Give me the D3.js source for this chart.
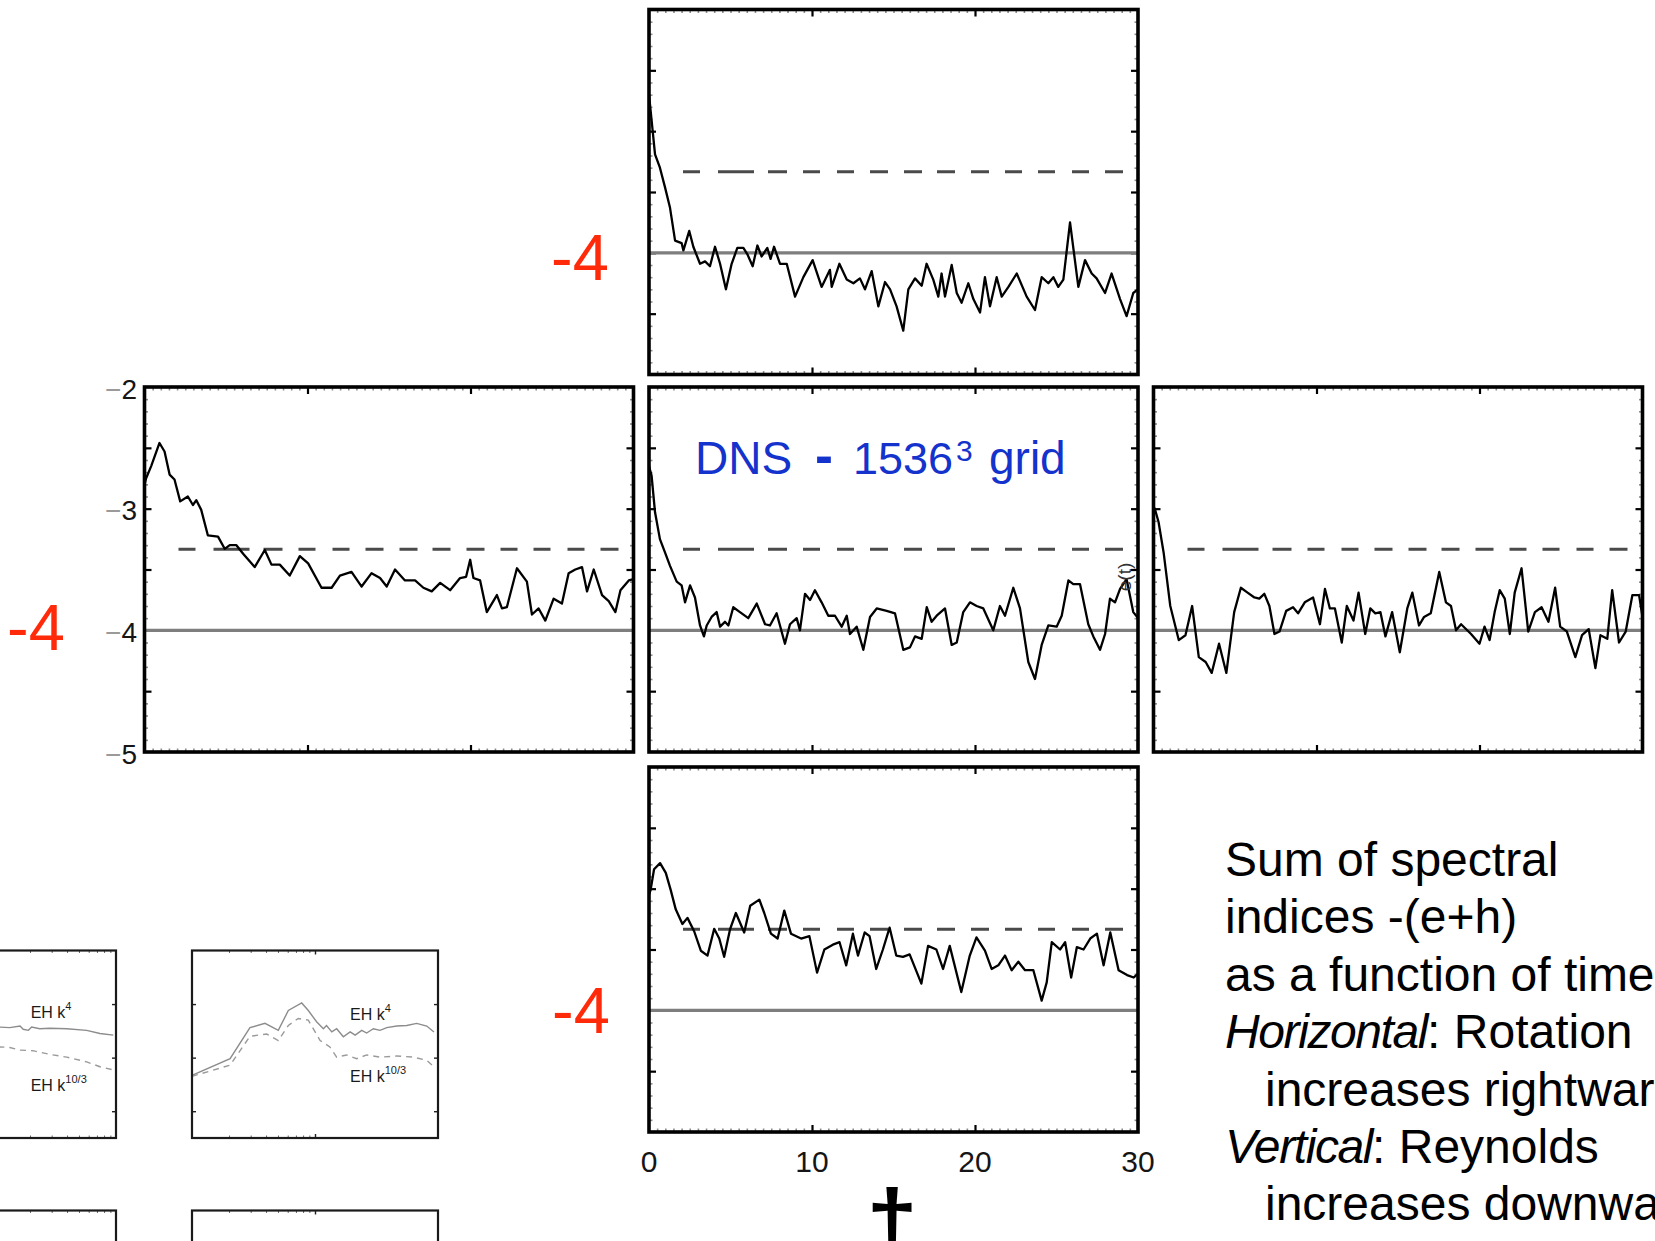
<!DOCTYPE html>
<html>
<head>
<meta charset="utf-8">
<script src="https://cdn.jsdelivr.net/npm/d3@7"></script>
<style>
  body { margin: 0; background: #ffffff; }
  svg { display: block; }
  text { font-family: "Liberation Sans", Arial, Helvetica, sans-serif; }
</style>
</head>
<body>
<svg id="chart" width="1655" height="1241"></svg>
<script>
// ---------------- DATA ----------------
// Time series of the sum of spectral indices -(e+h)
const tTop = [0,0.37,0.67,0.98,1.29,1.60,2.00,2.11,2.47,2.72,3.13,3.44,3.74,4.05,4.36,4.72,5.07,5.42,5.79,6.03,6.36,6.65,6.91,7.26,7.46,7.67,8.04,8.45,8.96,9.47,10.04,10.59,11.10,11.21,11.68,12.13,12.54,12.94,13.25,13.66,14.07,14.48,14.79,15.19,15.60,15.91,16.32,16.73,17.03,17.44,17.75,17.95,18.16,18.57,18.88,19.18,19.59,19.90,20.31,20.61,20.92,21.33,21.64,22.05,22.56,23.17,23.68,24.09,24.50,24.81,25.11,25.42,25.83,26.34,26.75,27.16,27.46,27.98,28.38,28.90,29.30,29.71,30.0];
const vTop = [-2.70,-3.19,-3.30,-3.46,-3.63,-3.90,-3.92,-3.98,-3.82,-3.95,-4.09,-4.07,-4.11,-3.95,-4.09,-4.30,-4.09,-3.96,-3.96,-4.01,-4.11,-3.94,-4.03,-3.96,-4.05,-3.95,-4.09,-4.09,-4.36,-4.20,-4.06,-4.28,-4.14,-4.28,-4.09,-4.22,-4.25,-4.21,-4.30,-4.15,-4.44,-4.24,-4.30,-4.44,-4.64,-4.30,-4.21,-4.27,-4.09,-4.22,-4.36,-4.17,-4.36,-4.10,-4.33,-4.41,-4.25,-4.38,-4.49,-4.20,-4.44,-4.20,-4.36,-4.28,-4.17,-4.36,-4.47,-4.20,-4.25,-4.20,-4.28,-4.22,-3.75,-4.28,-4.06,-4.17,-4.21,-4.33,-4.17,-4.38,-4.52,-4.33,-4.30];

const tMidLeft = [0,0.10,0.41,0.92,1.23,1.54,1.84,2.19,2.66,2.97,3.18,3.48,3.89,4.51,4.92,5.23,5.64,6.05,6.76,7.38,7.79,8.30,8.91,9.53,10.04,10.86,11.48,11.99,12.70,13.32,13.93,14.45,14.86,15.37,15.98,16.60,17.11,17.62,18.14,18.75,19.36,19.73,19.98,20.18,20.59,21.00,21.62,21.93,22.23,22.85,23.46,23.77,24.18,24.59,25.10,25.61,26.02,26.43,26.84,27.15,27.56,28.07,28.48,28.89,29.20,29.71,30.0];
const vMidLeft = [-2.80,-2.75,-2.65,-2.46,-2.53,-2.72,-2.76,-2.94,-2.90,-2.97,-2.93,-3.01,-3.22,-3.23,-3.33,-3.30,-3.30,-3.37,-3.48,-3.34,-3.46,-3.46,-3.55,-3.39,-3.45,-3.65,-3.65,-3.55,-3.52,-3.64,-3.53,-3.57,-3.64,-3.50,-3.59,-3.59,-3.65,-3.68,-3.61,-3.67,-3.57,-3.56,-3.42,-3.57,-3.59,-3.85,-3.71,-3.82,-3.81,-3.49,-3.60,-3.87,-3.82,-3.92,-3.74,-3.78,-3.53,-3.50,-3.48,-3.68,-3.50,-3.71,-3.76,-3.85,-3.67,-3.59,-3.58];

const tMidCenter = [0,0.16,0.37,0.67,0.98,1.29,1.70,2.00,2.21,2.52,2.82,3.13,3.37,3.54,3.84,4.15,4.36,4.66,4.87,5.17,5.58,6.09,6.61,7.12,7.42,7.83,8.34,8.65,9.06,9.26,9.57,9.88,10.18,10.59,11.00,11.41,11.82,12.13,12.33,12.74,13.15,13.56,13.97,14.58,15.09,15.60,16.01,16.32,16.73,17.04,17.34,17.65,18.16,18.57,18.88,19.28,19.69,20.10,20.51,21.12,21.53,21.84,22.35,22.76,23.27,23.68,24.09,24.50,25.01,25.32,25.73,26.03,26.44,26.95,27.26,27.67,27.98,28.28,28.59,28.90,29.30,29.71,30.0];
const vMidCenter = [-2.65,-2.73,-3.03,-3.25,-3.36,-3.47,-3.60,-3.63,-3.77,-3.63,-3.73,-3.96,-4.05,-3.96,-3.89,-3.85,-3.97,-3.93,-3.96,-3.81,-3.85,-3.90,-3.78,-3.95,-3.96,-3.86,-4.11,-3.95,-3.90,-4.00,-3.70,-3.75,-3.67,-3.77,-3.88,-3.88,-3.97,-3.88,-4.03,-3.97,-4.16,-3.89,-3.82,-3.84,-3.86,-4.16,-4.14,-4.05,-4.07,-3.81,-3.93,-3.88,-3.82,-4.12,-4.10,-3.85,-3.77,-3.80,-3.82,-4.00,-3.80,-3.88,-3.65,-3.82,-4.26,-4.40,-4.12,-3.96,-3.97,-3.88,-3.59,-3.62,-3.62,-3.95,-4.05,-4.16,-4.03,-3.74,-3.77,-3.66,-3.58,-3.85,-3.90];

const tMidRight = [0,0.10,0.31,0.62,1.03,1.55,1.96,2.37,2.78,3.20,3.57,4.02,4.47,4.95,5.36,5.77,6.19,6.49,6.80,7.11,7.42,7.73,8.14,8.56,8.87,9.28,9.79,10.21,10.52,10.82,11.13,11.55,11.86,12.27,12.58,12.99,13.30,13.61,13.92,14.23,14.64,15.11,15.57,15.88,16.29,16.60,17.01,17.53,17.94,18.25,18.56,18.87,19.48,20.00,20.31,20.62,20.93,21.24,21.55,21.86,22.16,22.58,22.99,23.40,23.81,24.23,24.64,24.95,25.36,25.88,26.29,26.70,27.11,27.42,27.84,28.14,28.56,28.97,29.38,29.79,30.0];
const vMidRight = [-2.98,-3.01,-3.11,-3.36,-3.80,-4.08,-4.04,-3.80,-4.22,-4.26,-4.35,-4.11,-4.35,-3.85,-3.65,-3.69,-3.73,-3.74,-3.70,-3.80,-4.03,-4.01,-3.84,-3.81,-3.86,-3.77,-3.73,-3.95,-3.66,-3.82,-3.82,-4.10,-3.80,-3.92,-3.69,-4.03,-3.82,-3.86,-3.85,-4.05,-3.85,-4.18,-3.82,-3.69,-3.96,-3.89,-3.86,-3.52,-3.77,-3.80,-4.00,-3.95,-4.03,-4.11,-3.97,-4.08,-3.85,-3.67,-3.74,-4.03,-3.69,-3.49,-4.01,-3.85,-3.81,-3.93,-3.65,-3.97,-4.01,-4.22,-4.04,-3.99,-4.31,-4.04,-4.07,-3.67,-4.10,-4.01,-3.71,-3.71,-3.89];

const tBottom = [0,0.10,0.31,0.68,1.03,1.33,1.64,2.05,2.36,2.77,3.18,3.59,4.00,4.31,4.61,4.98,5.33,5.84,6.21,6.77,7.07,7.48,7.89,8.30,8.71,9.33,9.84,10.31,10.76,11.28,11.69,12.10,12.51,12.82,13.23,13.53,13.94,14.35,14.76,15.17,15.58,15.99,16.71,17.12,17.63,18.04,18.45,19.16,19.68,20.09,20.61,21.02,21.43,21.84,22.25,22.66,23.07,23.58,24.09,24.40,24.71,25.22,25.53,25.90,26.25,26.66,27.07,27.48,27.89,28.30,28.81,29.33,29.74,30.0];
const vBottom = [-3.05,-3.01,-2.84,-2.79,-2.87,-3.01,-3.17,-3.29,-3.24,-3.35,-3.51,-3.55,-3.33,-3.41,-3.56,-3.33,-3.20,-3.36,-3.14,-3.09,-3.20,-3.37,-3.41,-3.18,-3.37,-3.41,-3.39,-3.69,-3.50,-3.46,-3.44,-3.63,-3.37,-3.55,-3.36,-3.39,-3.66,-3.50,-3.32,-3.55,-3.56,-3.54,-3.78,-3.47,-3.50,-3.66,-3.47,-3.85,-3.55,-3.40,-3.51,-3.66,-3.63,-3.55,-3.67,-3.60,-3.67,-3.67,-3.92,-3.77,-3.44,-3.50,-3.44,-3.73,-3.48,-3.50,-3.41,-3.37,-3.63,-3.36,-3.67,-3.71,-3.73,-3.70];

// Reference levels
const solidRef = -4;
const dashedRef = -10 / 3;

// Tick labels
const xTickLabels = [0, 10, 20, 30];
const yTickLabels = [-2, -3, -4, -5];
const redLabel = "-4";

// Inset spectra (old figure): wavenumber k and compensated spectra
const insetLeftK4k = [9, 11.4, 13.7, 16.6, 17.6, 19.4, 20.6, 24.0, 29.0, 39.8, 57.8, 74.1, 95.1];
const insetLeftK4v = [2.06, 2.07, 2.06, 2.09, 2.03, 2.01, 2.07, 2.04, 2.05, 2.04, 2.01, 1.95, 1.92];
const insetLeftK103k = [9, 11.4, 13.7, 16.6, 21.1, 29.0, 39.8, 57.8, 74.1, 95.1];
const insetLeftK103v = [1.71, 1.70, 1.69, 1.64, 1.63, 1.56, 1.51, 1.42, 1.33, 1.27];
const insetRightK4k = [1.0, 2.04, 2.96, 3.92, 5.03, 6.07, 7.80, 8.82, 10.3, 11.7, 12.4, 13.7, 15.0, 17.0, 19.3, 21.2, 24.0, 26.3, 29.8, 33.8, 38.3, 46.2, 55.7, 67.1, 81.0, 92.7];
const insetRightK4v = [1.17, 1.48, 2.06, 2.14, 2.01, 2.38, 2.52, 2.38, 2.17, 2.04, 2.10, 1.98, 2.04, 1.89, 1.98, 1.92, 2.01, 1.96, 2.04, 2.01, 2.06, 2.09, 2.10, 2.14, 2.09, 1.98];
const insetRightK103k = [1.0, 2.04, 2.96, 4.05, 5.03, 6.07, 7.30, 8.82, 11.0, 13.2, 15.0, 18.1, 21.8, 26.3, 33.8, 46.2, 62.7, 81.0, 92.7];
const insetRightK103v = [1.15, 1.36, 1.90, 1.94, 1.82, 2.10, 2.23, 2.20, 1.82, 1.70, 1.51, 1.55, 1.48, 1.55, 1.51, 1.53, 1.51, 1.45, 1.33];

// Texts
const titleWords = ["DNS", "-", "1536", "3", "grid"];
const descLines = [
  {it: "", rest: "Sum of spectral", indent: false},
  {it: "", rest: "indices -(e+h)", indent: false},
  {it: "", rest: "as a function of time", indent: false},
  {it: "Horizontal", rest: ": Rotation", indent: false},
  {it: "", rest: "increases rightwards", indent: true},
  {it: "Vertical", rest: ": Reynolds", indent: false},
  {it: "", rest: "increases downwards", indent: true}
];
const axisTitle = "\u2020";
const sideLabel = "e(t)";

// ---------------- DRAWING ----------------
const svg = d3.select("#chart");
const defs = svg.append("defs");
const W = 489, H = 365;
const xS = d3.scaleLinear().domain([0, 30]).range([0, W]);
const yS = d3.scaleLinear().domain([-5, -2]).range([H, 0]);

const panels = [
  {x: 649,    y: 9.5, t: tTop,       v: vTop},
  {x: 144.5,  y: 387, t: tMidLeft,   v: vMidLeft,   yLab: true},
  {x: 649,    y: 387, t: tMidCenter, v: vMidCenter},
  {x: 1153.5, y: 387, t: tMidRight,  v: vMidRight},
  {x: 649,    y: 767, t: tBottom,    v: vBottom,    xLab: true}
];

const minorX = d3.range(1, 60).map(i => i * 0.5).filter(d => d % 10 !== 0);
const minorY = d3.range(-49, -20).map(i => i / 10).filter(d => Math.abs(d * 2 - Math.round(d * 2)) > 1e-6);
const majorX = [10, 20];
const majorY = [-4.5, -4, -3.5, -3, -2.5];

// dash layout of the -10/3 line (pixel intervals along the panel)
const dashSegs = [[34,51],[69,105],[119,138],[154,171],[188,205],[221,239],[255,273],[288,306],[322,340],[356,373],[389,406],[423,440],[456,474]];
const dashArr = [0];
let prev = 0;
dashSegs.forEach(s => { dashArr.push(s[0] - prev, s[1] - s[0]); prev = s[1]; });
dashArr.push(1000);

function addTicks(g, axis, tr, color, width) {
  const a = g.append("g").attr("transform", tr).attr("color", color).call(axis);
  a.select(".domain").remove();
  a.selectAll("line").attr("stroke-width", width);
  a.selectAll("text").remove();
}

const line = d3.line().x(d => xS(d[0])).y(d => yS(d[1]));

panels.forEach((p, i) => {
  const g = svg.append("g").attr("transform", `translate(${p.x},${p.y})`);
  const cid = "clipP" + i;
  defs.append("clipPath").attr("id", cid).append("rect").attr("width", W).attr("height", H);

  // minor ticks
  addTicks(g, d3.axisBottom(xS).tickValues(minorX).tickSize(-3.5).tickFormat(""), `translate(0,${H})`, "#8c8c8c", 1.6);
  addTicks(g, d3.axisTop(xS).tickValues(minorX).tickSize(-3.5).tickFormat(""), `translate(0,0)`, "#8c8c8c", 1.6);
  addTicks(g, d3.axisLeft(yS).tickValues(minorY).tickSize(-3.5).tickFormat(""), `translate(0,0)`, "#8c8c8c", 1.6);
  addTicks(g, d3.axisRight(yS).tickValues(minorY).tickSize(-3.5).tickFormat(""), `translate(${W},0)`, "#8c8c8c", 1.6);
  // major ticks
  addTicks(g, d3.axisBottom(xS).tickValues(majorX).tickSize(-7).tickFormat(""), `translate(0,${H})`, "#000", 2.2);
  addTicks(g, d3.axisTop(xS).tickValues(majorX).tickSize(-7).tickFormat(""), `translate(0,0)`, "#000", 2.2);
  addTicks(g, d3.axisLeft(yS).tickValues(majorY).tickSize(-7).tickFormat(""), `translate(0,0)`, "#000", 2.2);
  addTicks(g, d3.axisRight(yS).tickValues(majorY).tickSize(-7).tickFormat(""), `translate(${W},0)`, "#000", 2.2);

  // reference lines
  g.append("line").attr("x1", 0).attr("x2", W)
    .attr("y1", yS(solidRef)).attr("y2", yS(solidRef))
    .attr("stroke", "#7e7e7e").attr("stroke-width", 3.4);
  g.append("line").attr("x1", 0).attr("x2", W)
    .attr("y1", yS(dashedRef)).attr("y2", yS(dashedRef))
    .attr("stroke", "#4a4a4a").attr("stroke-width", 3)
    .attr("stroke-dasharray", dashArr.join(" "));

  // data
  g.append("path").datum(d3.zip(p.t, p.v))
    .attr("clip-path", `url(#${cid})`)
    .attr("fill", "none").attr("stroke", "#000").attr("stroke-width", 2.3)
    .attr("stroke-linejoin", "round").attr("d", line);

  // frame
  g.append("rect").attr("width", W).attr("height", H)
    .attr("fill", "none").attr("stroke", "#000").attr("stroke-width", 3.6);

  if (p.yLab) {
    yTickLabels.forEach(v => {
      const t = g.append("text").attr("x", -7.5).attr("y", yS(v)).attr("dy", "0.42em")
        .attr("text-anchor", "end").attr("font-size", 28);
      t.append("tspan").attr("fill", "#9a9a9a").text("\u2212");
      t.append("tspan").attr("fill", "#151515").text(Math.abs(v));
    });
  }
  if (p.xLab) {
    xTickLabels.forEach(v => {
      g.append("text").attr("x", xS(v)).attr("y", H + 40)
        .attr("text-anchor", "middle").attr("font-size", 30).attr("fill", "#151515").text(v);
    });
  }
});

// side label inside the centre panel
svg.append("text").attr("transform", "translate(1131,577) rotate(-90)")
  .attr("text-anchor", "middle").attr("font-size", 19).attr("fill", "#333").text(sideLabel);

// x-axis title
svg.append("text").attr("x", 892).attr("y", 1254).attr("text-anchor", "middle")
  .attr("font-family", "DejaVu Sans").attr("font-weight", "bold").attr("font-size", 92)
  .attr("fill", "#000").text(axisTitle);

// red "-4" labels
const redPos = [[551, 280], [7, 650], [552, 1033]];
redPos.forEach(rp => {
  svg.append("text").attr("x", rp[0]).attr("y", rp[1]).attr("font-size", 65)
    .attr("fill", "#ff2a0a").text(redLabel);
});

// blue title
const blue = "#1432cc";
const title = svg.append("text").attr("y", 474).attr("font-size", 46).attr("fill", blue);
title.append("tspan").attr("x", 695).text(titleWords[0]);
title.append("tspan").attr("x", 815).attr("font-weight", "bold").attr("font-size", 54).text(titleWords[1]);
title.append("tspan").attr("x", 853).attr("font-size", 45).text(titleWords[2]);
title.append("tspan").attr("x", 956).attr("y", 461).attr("font-size", 30).text(titleWords[3]);
title.append("tspan").attr("x", 989).attr("y", 474).text(titleWords[4]);

// description text
descLines.forEach((d, i) => {
  const t = svg.append("text").attr("x", d.indent ? 1265 : 1225).attr("y", 876 + i * 57.4)
    .attr("font-size", 48).attr("fill", "#000");
  if (d.it) t.append("tspan").attr("font-style", "italic").attr("letter-spacing", -1.4).text(d.it);
  t.append("tspan").text(d.rest);
});

// ---------------- INSETS (old figure, partially visible) ----------------
const IW = 246, IH = 187.5;
const sx = d3.scaleLog().domain([1, 100]).range([0, IW]);
const sy = d3.scaleLinear().domain([0, 3.5]).range([IH, 0]);
const insetLine = d3.line().x(d => sx(d[0])).y(d => sy(d[1]));
const insets = [
  {x: -130, y: 950.5, k4: [insetLeftK4k, insetLeftK4v], k103: [insetLeftK103k, insetLeftK103v], lab: [30.7, 1017.5, 1090.5], kt: [20,30,40,50,60,70,80,90]},
  {x: 192,  y: 950.5, k4: [insetRightK4k, insetRightK4v], k103: [insetRightK103k, insetRightK103v], lab: [350, 1020, 1081.5], kt: [2,3,4,5,6,7,8,9]},
  {x: -130, y: 1210.5, kt: [20,30,40,50,60,70,80,90]},
  {x: 192,  y: 1210.5, kt: [2,3,4,5,6,7,8,9]}
];
insets.forEach((p, i) => {
  const g = svg.append("g").attr("transform", `translate(${p.x},${p.y})`);
  addTicks(g, d3.axisTop(sx).tickValues(p.kt).tickSize(-2.5).tickFormat(""), "translate(0,0)", "#666", 1);
  addTicks(g, d3.axisBottom(sx).tickValues(p.kt).tickSize(-2.5).tickFormat(""), `translate(0,${IH})`, "#666", 1);
  addTicks(g, d3.axisTop(sx).tickValues([10]).tickSize(-4).tickFormat(""), "translate(0,0)", "#222", 1.4);
  addTicks(g, d3.axisBottom(sx).tickValues([10]).tickSize(-4).tickFormat(""), `translate(0,${IH})`, "#222", 1.4);
  addTicks(g, d3.axisLeft(sy).tickValues([0.5, 1.5, 2.5]).tickSize(-4).tickFormat(""), "translate(0,0)", "#222", 1.4);
  addTicks(g, d3.axisRight(sy).tickValues([0.5, 1.5, 2.5]).tickSize(-4).tickFormat(""), `translate(${IW},0)`, "#222", 1.4);
  if (p.k4) {
    g.append("path").datum(d3.zip(p.k4[0], p.k4[1])).attr("d", insetLine)
      .attr("fill", "none").attr("stroke", "#8c8c8c").attr("stroke-width", 1.4);
    g.append("path").datum(d3.zip(p.k103[0], p.k103[1])).attr("d", insetLine)
      .attr("fill", "none").attr("stroke", "#9a9a9a").attr("stroke-width", 1.4)
      .attr("stroke-dasharray", "6 5");
  }
  g.append("rect").attr("width", IW).attr("height", IH)
    .attr("fill", "none").attr("stroke", "#1a1a1a").attr("stroke-width", 2.2);
  if (p.lab) {
    const a = svg.append("text").attr("x", p.lab[0]).attr("y", p.lab[1]).attr("font-size", 16).attr("fill", "#1a1a1a");
    a.append("tspan").text("EH k");
    a.append("tspan").attr("font-size", 11).attr("dy", -8).text("4");
    const b = svg.append("text").attr("x", p.lab[0]).attr("y", p.lab[2]).attr("font-size", 16).attr("fill", "#1a1a1a");
    b.append("tspan").text("EH k");
    b.append("tspan").attr("font-size", 11).attr("dy", -8).text("10/3");
  }
});
</script>
</body>
</html>
